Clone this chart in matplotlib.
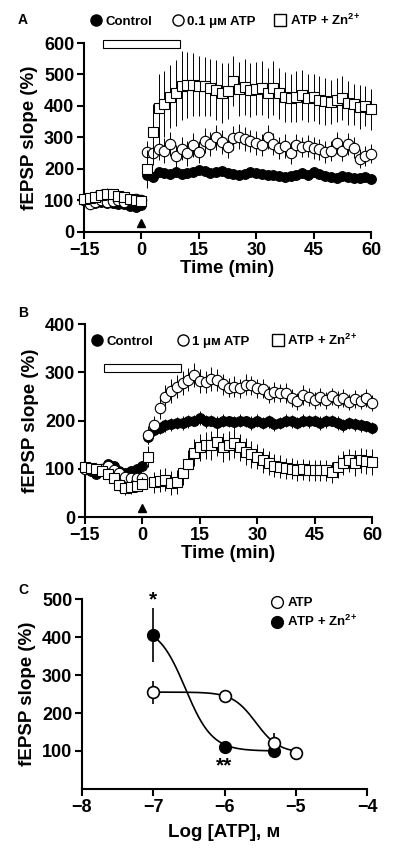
import numpy as np
import matplotlib
matplotlib.use("Agg")
from matplotlib import pyplot as plt
from matplotlib.patches import Rectangle

plt.rcParams["font.family"] = ["Liberation Sans", "DejaVu Sans"]
plt.rcParams["font.weight"] = "bold"
plt.rcParams["axes.labelweight"] = "bold"
plt.rcParams["mathtext.fontset"] = "custom"
plt.rcParams["mathtext.rm"] = "Liberation Sans:bold"
plt.rcParams["mathtext.bf"] = "Liberation Sans:bold"
plt.rcParams["mathtext.it"] = "Liberation Sans:bold"

# time axis (min), one sample every 1.5 min from -15 to 60
time_min = np.arange(-15, 60.1, 1.5)
drug_window = (-10, 10)

# panel A: 0.1 uM ATP
a_control = [100, 95, 92, 95, 93, 92, 90, 88, 82, 80, 85,
             180, 175, 190, 188, 185, 190, 185, 188, 190, 198,
             192, 188, 190, 195, 188, 185, 180, 185, 190, 188,
             185, 182, 180, 178, 175, 178, 182, 188, 180, 190,
             185, 178, 175, 172, 178, 175, 172, 170, 175, 168]
a_control_err = [8, 8, 7, 8, 8, 7, 8, 8, 7, 8, 8,
                 12, 12, 11, 12, 12, 11, 12, 12, 11, 12,
                 12, 11, 12, 12, 11, 12, 12, 11, 12, 12,
                 11, 12, 12, 11, 12, 12, 11, 12, 12, 11,
                 12, 11, 12, 12, 11, 12, 12, 11, 12, 12]
a_atp = [100, 88, 95, 100, 95, 98, 100, 95, 100, 105, 100,
         255, 250, 265, 258, 280, 240, 265, 250, 275, 255,
         290, 280, 300, 285, 270, 298, 302, 295, 290, 283,
         275, 302, 280, 268, 272, 250, 275, 270, 272, 268,
         262, 255, 258, 283, 256, 278, 268, 232, 240, 248]
a_atp_err = [10, 10, 12, 10, 10, 12, 10, 10, 12, 12, 12,
             35, 38, 35, 40, 38, 35, 38, 40, 38, 35,
             40, 38, 40, 38, 35, 38, 40, 38, 35, 38,
             35, 38, 35, 35, 38, 35, 35, 32, 35, 35,
             32, 35, 32, 35, 32, 35, 32, 30, 32, 30]
a_zn = [105, 108, 112, 118, 120, 120, 115, 110, 105, 100, 97,
        200, 317, 393, 405, 430, 440, 465, 467, 468, 463,
        462, 458, 451, 441, 448, 479, 454, 460, 451, 455,
        457, 441, 457, 440, 429, 425, 430, 435, 425, 428,
        419, 415, 413, 419, 425, 410, 405, 397, 400, 390]
a_zn_err = [15, 15, 18, 20, 20, 18, 18, 15, 15, 15, 12,
            60, 90, 110, 105, 100, 105, 110, 105, 100, 95,
            95, 90, 95, 95, 90, 80, 85, 90, 85, 85,
            85, 80, 85, 80, 80, 75, 80, 80, 75, 75,
            75, 75, 70, 70, 70, 70, 65, 70, 65, 65]

# panel B: 1 uM ATP
b_control = [100, 95, 90, 100, 110, 105, 95, 92, 95, 100, 105,
             165, 180, 185, 190, 192, 195, 195, 198, 200, 205,
             198, 200, 195, 200, 198, 196, 200, 198, 195, 200,
             195, 198, 192, 195, 200, 198, 195, 200, 198, 200,
             195, 198, 200, 195, 190, 195, 192, 190, 188, 185]
b_control_err = [8, 8, 8, 8, 8, 8, 8, 8, 8, 8, 8,
                 14, 13, 12, 14, 13, 12, 14, 13, 12, 14,
                 13, 12, 14, 13, 12, 14, 13, 12, 14, 13,
                 12, 14, 13, 12, 14, 13, 12, 14, 13, 12,
                 14, 13, 12, 14, 13, 12, 14, 13, 12, 12]
b_atp = [100, 100, 98, 100, 105, 97, 91, 83, 81, 80, 80,
         170, 190, 226, 249, 262, 270, 277, 285, 295, 282,
         280, 286, 284, 275, 268, 270, 267, 274, 273, 267,
         266, 254, 259, 257, 257, 247, 240, 253, 249, 242,
         249, 242, 250, 243, 247, 238, 245, 240, 247, 236]
b_atp_err = [10, 10, 10, 10, 10, 10, 10, 10, 10, 10, 10,
             18, 20, 22, 24, 25, 24, 25, 24, 25, 24,
             22, 24, 22, 22, 20, 22, 20, 22, 20, 20,
             20, 18, 20, 18, 20, 18, 18, 20, 18, 18,
             18, 18, 18, 18, 18, 16, 18, 16, 18, 16]
b_zn = [104, 102, 100, 95, 90, 80, 66, 60, 62, 65, 68,
        125, 72, 75, 77, 70, 72, 91, 110, 133, 145,
        149, 149, 156, 145, 149, 153, 145, 135, 130, 125,
        118, 112, 106, 104, 101, 100, 97, 99, 97, 97,
        97, 97, 93, 104, 112, 118, 112, 118, 116, 114]
b_zn_err = [10, 10, 10, 10, 12, 12, 12, 14, 14, 14, 14,
            22, 22, 24, 24, 25, 25, 25, 28, 28, 28,
            28, 30, 30, 30, 30, 30, 28, 28, 28, 26,
            26, 25, 24, 24, 22, 22, 22, 22, 22, 22,
            22, 22, 22, 24, 24, 24, 26, 26, 26, 26]

# panel C: concentration response
c_log_atp = [-7, -6, -5.3, -5]
c_atp = [255, 245, 122, 95]
c_atp_err = [30, 8, 25, 6]
c_log_zn = [-7, -6, -5.3]
c_zn = [405, 110, 100]
c_zn_err = [72, 15, 18]

# fitted sigmoid parameters (bottom, top, log IC50, slope)
fit_atp = (95, 255, -5.56, 2.67)
fit_zn = (100, 430, -6.55, 2.3)


def sigmoid(x, params):
    bottom, top, x50, slope = params
    return bottom + (top - bottom) / (1 + 10 ** ((x - x50) * slope))


def style_axes(ax):
    for side in ("top", "right"):
        ax.spines[side].set_visible(False)
    for side in ("left", "bottom"):
        ax.spines[side].set_linewidth(1.5)
    ax.tick_params(width=1.5, length=5, labelsize=13, pad=2)


def draw_series(ax, t, y, err, marker, face, size, z):
    ax.errorbar(t, y, yerr=err, fmt=marker, mfc=face, mec="black", mew=0.8,
                ms=size, ecolor="black", elinewidth=0.7, capsize=0,
                zorder=z, clip_on=False)


def legend_handles(specs, size):
    return [plt.Line2D([], [], ls="", marker=m, mfc=f, mec="black", mew=1, ms=size)
            for m, f in specs]


def draw_time_panel(ax, ctrl, ctrl_err, atp, atp_err, zn, zn_err,
                    ymax, bar_y, arrow_y):
    draw_series(ax, time_min, ctrl, ctrl_err, "o", "black", 7, 3)
    draw_series(ax, time_min, atp, atp_err, "o", "white", 7.5, 4)
    draw_series(ax, time_min, zn, zn_err, "s", "white", 6.5, 5)
    ax.add_patch(Rectangle((drug_window[0], bar_y[0]),
                           drug_window[1] - drug_window[0], bar_y[1] - bar_y[0],
                           facecolor="white", edgecolor="black", lw=0.8,
                           clip_on=False, zorder=6))
    ax.plot([0], [arrow_y], marker="^", color="black", ms=6, clip_on=False)
    ax.set_xlim(-15, 60)
    ax.set_ylim(0, ymax)
    ax.set_xticks([-15, 0, 15, 30, 45, 60])
    ax.set_xticklabels(["\u221215", "0", "15", "30", "45", "60"])
    ax.set_xlabel("Time (min)", fontsize=13.5, labelpad=1)
    ax.set_ylabel("fEPSP slope (%)", fontsize=13.5, labelpad=4)
    style_axes(ax)


zn_label = r"ATP + Zn$^{2{+}}$"
time_specs = (("o", "black"), ("o", "white"), ("s", "white"))

fig = plt.figure(figsize=(4, 8.55), dpi=100)

ax_a = fig.add_axes([0.21, 0.7287, 0.7175, 0.221])
draw_time_panel(ax_a, a_control, a_control_err, a_atp, a_atp_err, a_zn, a_zn_err,
                600, (584, 609), 28)
ax_a.set_yticks([0, 100, 200, 300, 400, 500, 600])
ax_a.legend(legend_handles(time_specs, 8), ["Control", "0.1 \u03bc\u1d0d ATP", zn_label],
            ncol=3, loc="center left", bbox_to_anchor=(0.025, 1.12), frameon=False,
            fontsize=9.5, handlelength=0.8, handletextpad=0.3,
            columnspacing=1.5, borderpad=0, borderaxespad=0)

ax_b = fig.add_axes([0.2125, 0.3953, 0.7175, 0.2257])
draw_time_panel(ax_b, b_control, b_control_err, b_atp, b_atp_err, b_zn, b_zn_err,
                400, (300, 317), 19)
ax_b.set_yticks([0, 100, 200, 300, 400])
ax_b.legend(legend_handles(time_specs, 8), ["Control", "1 \u03bc\u1d0d ATP", zn_label],
            ncol=3, loc="center left", bbox_to_anchor=(0.025, 0.917), frameon=False,
            fontsize=9.5, handlelength=0.8, handletextpad=0.3,
            columnspacing=1.8, borderpad=0, borderaxespad=0)

ax_c = fig.add_axes([0.205, 0.0772, 0.7125, 0.2222])
xs_atp = np.linspace(c_log_atp[0], c_log_atp[-1], 200)
xs_zn = np.linspace(c_log_zn[0], c_log_zn[-1], 200)
ax_c.plot(xs_atp, sigmoid(xs_atp, fit_atp), color="black", lw=1.2, zorder=2)
ax_c.plot(xs_zn, sigmoid(xs_zn, fit_zn), color="black", lw=1.2, zorder=2)
ax_c.errorbar(c_log_zn, c_zn, yerr=c_zn_err, fmt="o", mfc="black", mec="black",
              ms=8.5, ecolor="black", elinewidth=1.2, capsize=0, zorder=3)
ax_c.errorbar(c_log_atp, c_atp, yerr=c_atp_err, fmt="o", mfc="white", mec="black",
              mew=1.2, ms=8.5, ecolor="black", elinewidth=1.2, capsize=0, zorder=4)
ax_c.text(-7, 497, "*", ha="center", va="center", fontsize=15)
ax_c.text(-6, 62, "**", ha="center", va="center", fontsize=15)
ax_c.set_xlim(-8, -4)
ax_c.set_ylim(0, 500)
ax_c.set_yticks([100, 200, 300, 400, 500])
ax_c.set_xticks([-8, -7, -6, -5, -4])
ax_c.set_xticklabels(["\u22128", "\u22127", "\u22126", "\u22125", "\u22124"])
ax_c.set_xlabel("Log [ATP], \u1d0d", fontsize=13.5, labelpad=6)
ax_c.set_ylabel("fEPSP slope (%)", fontsize=13.5, labelpad=4)
style_axes(ax_c)
ax_c.legend(legend_handles((("o", "white"), ("o", "black")), 8.5),
            ["ATP", zn_label], loc="upper left", bbox_to_anchor=(0.665, 1.01),
            frameon=False, fontsize=9.5, handlelength=0.8, handletextpad=0.4,
            labelspacing=0.35, borderpad=0, borderaxespad=0)

fig.text(0.045, 1 - 20 / 855, "A", fontsize=10, va="center")
fig.text(0.045, 1 - 313 / 855, "B", fontsize=10, va="center")
fig.text(0.045, 1 - 590 / 855, "C", fontsize=10, va="center")

fig.savefig("out.png", dpi=100)
